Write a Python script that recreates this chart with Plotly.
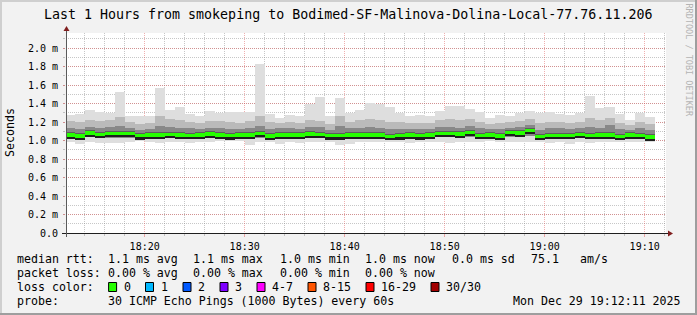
import plotly.graph_objects as go
import pandas as pd

# ---------------- data ----------------
# step end times (one smokeping step = 60 s)
step_end = pd.date_range("2025-12-29 18:13:00", "2025-12-29 19:11:00", freq="1min")

# RTT distribution per step, in milliseconds
hi  = [1.28, 1.29, 1.335, 1.31, 1.30, 1.52, 1.26, 1.27, 1.26, 1.566,
       1.33, 1.357, 1.29, 1.27, 1.32, 1.30, 1.31, 1.31, 1.31, 1.83,
       1.29, 1.245, 1.28, 1.27, 1.40, 1.465, 1.26, 1.455, 1.30, 1.335,
       1.41, 1.39, 1.357, 1.30, 1.27, 1.28, 1.26, 1.32, 1.37, 1.37,
       1.345, 1.31, 1.24, 1.28, 1.27, 1.30, 1.32, 1.295, 1.31, 1.29,
       1.275, 1.295, 1.48, 1.35, 1.36, 1.29, 1.227, 1.30, 1.25]
p90 = [1.21, 1.20, 1.22, 1.21, 1.22, 1.25, 1.20, 1.18, 1.19, 1.26,
       1.23, 1.22, 1.20, 1.19, 1.21, 1.21, 1.20, 1.19, 1.21, 1.26,
       1.20, 1.19, 1.20, 1.19, 1.22, 1.21, 1.18, 1.26, 1.20, 1.22,
       1.23, 1.22, 1.20, 1.20, 1.19, 1.19, 1.19, 1.22, 1.23, 1.22,
       1.23, 1.20, 1.18, 1.19, 1.20, 1.21, 1.23, 1.19, 1.20, 1.20,
       1.19, 1.20, 1.24, 1.22, 1.24, 1.19, 1.17, 1.20, 1.18]
p75 = [1.13, 1.12, 1.15, 1.14, 1.15, 1.16, 1.14, 1.11, 1.12, 1.16,
       1.15, 1.14, 1.13, 1.12, 1.14, 1.14, 1.12, 1.12, 1.14, 1.16,
       1.12, 1.13, 1.13, 1.12, 1.15, 1.15, 1.11, 1.16, 1.13, 1.14,
       1.15, 1.14, 1.12, 1.12, 1.12, 1.12, 1.12, 1.15, 1.15, 1.14,
       1.16, 1.13, 1.12, 1.12, 1.14, 1.15, 1.17, 1.11, 1.13, 1.13,
       1.12, 1.13, 1.15, 1.14, 1.17, 1.12, 1.11, 1.13, 1.11]
med = [1.060, 1.047, 1.080, 1.065, 1.075, 1.075, 1.075, 1.050, 1.060, 1.058,
       1.065, 1.058, 1.055, 1.058, 1.070, 1.060, 1.050, 1.058, 1.058, 1.075,
       1.047, 1.060, 1.058, 1.058, 1.070, 1.065, 1.050, 1.050, 1.058, 1.058,
       1.058, 1.060, 1.043, 1.050, 1.060, 1.050, 1.058, 1.075, 1.075, 1.068,
       1.083, 1.055, 1.060, 1.047, 1.083, 1.080, 1.105, 1.043, 1.055, 1.055,
       1.055, 1.065, 1.055, 1.058, 1.060, 1.043, 1.060, 1.055, 1.036]
p25 = [1.03, 1.02, 1.04, 1.03, 1.03, 1.03, 1.03, 1.02, 1.03, 1.03,
       1.03, 1.03, 1.02, 1.03, 1.03, 1.03, 1.02, 1.03, 1.02, 1.03,
       1.02, 1.02, 1.03, 1.02, 1.03, 1.03, 1.02, 1.02, 1.02, 1.03,
       1.03, 1.03, 1.02, 1.02, 1.03, 1.02, 1.03, 1.04, 1.04, 1.03,
       1.04, 1.02, 1.03, 1.02, 1.04, 1.04, 1.05, 1.02, 1.02, 1.02,
       1.02, 1.03, 1.02, 1.02, 1.03, 1.02, 1.03, 1.02, 1.01]
lo  = [0.985, 0.957, 0.985, 0.970, 0.975, 0.975, 0.980, 0.995, 0.980, 0.970,
       0.980, 0.985, 0.970, 0.985, 0.980, 0.995, 0.995, 0.995, 0.950, 0.985,
       0.985, 0.965, 0.985, 0.975, 0.985, 0.985, 0.985, 0.950, 0.965, 0.985,
       0.985, 0.985, 0.985, 0.985, 0.975, 0.985, 0.985, 0.985, 0.975, 0.985,
       0.985, 0.985, 0.995, 0.985, 0.985, 0.985, 0.985, 0.985, 0.975, 0.985,
       0.965, 0.985, 0.975, 0.985, 0.985, 0.985, 0.985, 0.985, 0.985]

y_tick_vals = [0.0, 0.2, 0.4, 0.6, 0.8, 1.0, 1.2, 1.4, 1.6, 1.8, 2.0]
y_tick_text = ["0.0", "0.2 m", "0.4 m", "0.6 m", "0.8 m", "1.0 m",
               "1.2 m", "1.4 m", "1.6 m", "1.8 m", "2.0 m"]

title_text = "Last 1 Hours from smokeping to Bodimed-SF-Malinova-Dolina-Local-77.76.11.206"
rtt_items = ["median rtt:", "1.1 ms avg", "1.1 ms max", "1.0 ms min", "1.0 ms now",
             "0.0 ms sd", "75.1", "am/s"]
loss_items = ["packet loss:", "0.00 % avg", "0.00 % max", "0.00 % min", "0.00 % now"]
loss_labels = ["0", "1", "2", "3", "4-7", "8-15", "16-29", "30/30"]
loss_colors = ["#26ff00", "#00b8ff", "#0059ff", "#7e00ff", "#ff00ff", "#ff5500", "#ff0000", "#a10000"]
probe_text = "30 ICMP Echo Pings (1000 Bytes) every 60s"
date_text = "Mon Dec 29 19:12:11 2025"

# ---------------- layout geometry (pixels) ----------------
W, H = 697, 315
L, T, PW, PH = 66, 33, 600, 200
MONO = "DejaVu Sans Mono"


def px(x, y):
    return (x - L) / PW, (T + PH - y) / PH


centers = step_end - pd.Timedelta(seconds=30)
STEP_MS = 60000

fig = go.Figure()


def band(lower, upper, color):
    fig.add_trace(go.Bar(
        x=centers, base=lower, y=[u - l for u, l in zip(upper, lower)],
        width=STEP_MS, marker=dict(color=color, line=dict(width=0)),
        hoverinfo="skip", showlegend=False))


band(lo, hi, "#dedede")
band(p25, p90, "#bababa")
band(p25, p75, "#888888")
band([m - 0.03 for m in med], [m + 0.03 for m in med], "#5c5c5c")
band([m - 0.034 for m in med], [m - 0.016 for m in med], "#1e1e1e")
band([m - 0.017 for m in med], [m + 0.019 for m in med], loss_colors[0])

grid_minor = "rgba(143,143,143,0.5)"
grid_major = "rgba(222,79,79,0.45)"

fig.update_layout(
    width=W, height=H,
    margin=dict(l=L, r=W - L - PW, t=T, b=H - T - PH, pad=0),
    paper_bgcolor="#f2f2f2", plot_bgcolor="#ffffff",
    barmode="overlay", bargap=0, showlegend=False,
    font=dict(family=MONO, color="#000000"),
    xaxis=dict(
        type="date",
        range=["2025-12-29 18:12:08", "2025-12-29 19:12:08"],
        tickmode="linear", tick0="2025-12-29 18:00:00", dtick=600000,
        tickformat="%H:%M", tickfont=dict(family=MONO, size=10, color="#000"),
        showgrid=True, gridcolor=grid_major, gridwidth=1, griddash="1px,1px",
        ticks="outside", ticklen=3, tickcolor=grid_major,
        minor=dict(tickmode="linear", tick0="2025-12-29 18:00:00", dtick=120000,
                   showgrid=True, gridcolor=grid_minor, gridwidth=1, griddash="1px,1px",
                   ticks="outside", ticklen=2, tickcolor=grid_minor),
        showline=False, zeroline=False, fixedrange=True, ticklabelstandoff=1,
    ),
    yaxis=dict(
        range=[0, PH / 92.5],
        tickmode="array", tickvals=y_tick_vals, ticktext=y_tick_text,
        tickfont=dict(family=MONO, size=10, color="#000"),
        showgrid=True, gridcolor=grid_major, gridwidth=1, griddash="1px,1px",
        ticks="outside", ticklen=2, tickcolor=grid_major,
        minor=dict(tickmode="linear", tick0=0, dtick=0.1,
                   showgrid=True, gridcolor=grid_minor, gridwidth=1, griddash="1px,1px",
                   ticks="outside", ticklen=2, tickcolor=grid_minor),
        showline=False, zeroline=False, fixedrange=True, ticklabelstandoff=3,
    ),
)

shapes = []
annotations = []


def rect(x0, y0, x1, y1, fill, line=None, layer="above"):
    a0, b0 = px(x0, y0)
    a1, b1 = px(x1, y1)
    shapes.append(dict(type="rect", xref="paper", yref="paper", x0=a0, y0=b0, x1=a1, y1=b1,
                       fillcolor=fill, line=dict(width=1 if line else 0, color=line or fill),
                       layer=layer))


def seg(x0, y0, x1, y1, color, width=1):
    a0, b0 = px(x0, y0)
    a1, b1 = px(x1, y1)
    shapes.append(dict(type="line", xref="paper", yref="paper", x0=a0, y0=b0, x1=a1, y1=b1,
                       line=dict(color=color, width=width), layer="above"))


def tri(points, color):
    pts = [px(x, y) for x, y in points]
    path = "M " + " L ".join(f"{a},{b}" for a, b in pts) + " Z"
    shapes.append(dict(type="path", xref="paper", yref="paper", path=path,
                       fillcolor=color, line=dict(width=0), layer="above"))


def text(s, x, y, size=11.6, anchor="left", color="#000000", angle=0):
    a, b = px(x, y)
    annotations.append(dict(text=s.replace(" ", "\u00a0"), x=a, y=b, xref="paper", yref="paper",
                            xanchor=anchor, yanchor="middle", showarrow=False, textangle=angle,
                            borderpad=0, borderwidth=0,
                            font=dict(family=MONO, size=size, color=color)))


# frame shading
rect(0, 0, W, 2, "#cfcfcf")
rect(0, 0, 2, H, "#cfcfcf")
rect(W - 2, 0, W, H, "#9e9e9e")
rect(0, H - 2, W, H, "#9e9e9e")

# axes with arrows
seg(L - 4, T + PH + 0.5, L + PW + 4, T + PH + 0.5, "#1f1f1f")
seg(L + 0.5, T + PH + 4, L + 0.5, T - 4, "#5a5a5a")
tri([(L + PW + 2, T + PH - 3 + 0.5), (L + PW + 2, T + PH + 3 + 0.5), (L + PW + 7, T + PH + 0.5)], "#801f1f")
tri([(L - 3 + 0.5, T - 2), (L + 3 + 0.5, T - 2), (L + 0.5, T - 7)], "#801f1f")

# title, unit label, watermark
text(title_text, 348, 14, size=13.3, anchor="center")
text("Seconds", 10, 133, size=11.6, anchor="center", angle=-90)
text("RRDTOOL / TOBI OETIKER", 688.5, 60, size=8.5, anchor="center", color="#b4b4b4", angle=90)

# legend rows
rtt_x = [16.5, 107.7, 193, 279.5, 365, 451.7, 531, 580]
for s, x in zip(rtt_items, rtt_x):
    text(s, x, 259)
for s, x in zip(loss_items, rtt_x):
    text(s, x, 273)
text("loss color:", 16.5, 287)
box_x = [108.6, 145.5, 183, 220, 257, 308, 366, 431]
for lab, col, bx in zip(loss_labels, loss_colors, box_x):
    rect(bx, 282.5, bx + 8, 291.5, col, line="#000000")
    text(lab, bx + 15, 287)
text("probe:", 16.5, 301)
text(probe_text, 107.7, 301)
text(date_text, 681, 301, anchor="right")

fig.update_layout(shapes=shapes, annotations=annotations)
fig.write_html("out.html")
